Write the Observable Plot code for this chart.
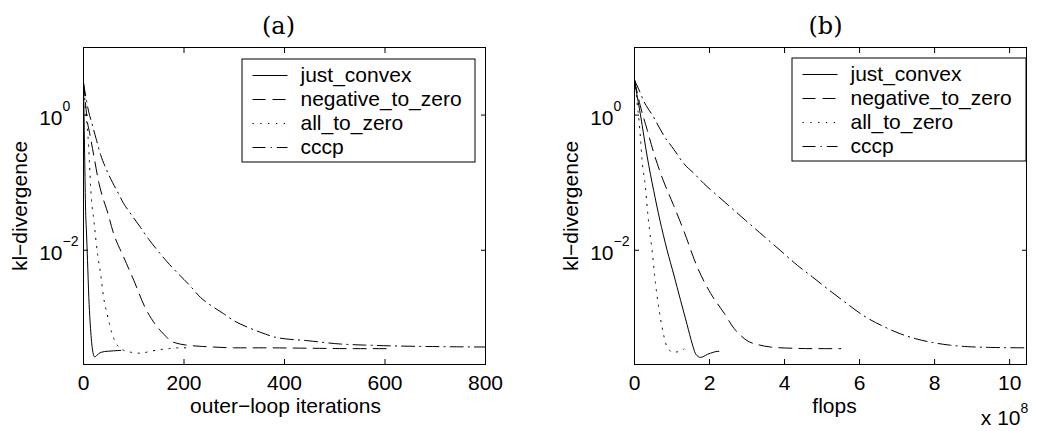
<!DOCTYPE html>
<html><head><meta charset="utf-8">
<script src="https://cdn.jsdelivr.net/npm/d3@7"></script>
<script src="https://cdn.jsdelivr.net/npm/@observablehq/plot@0.6"></script>
<style>
body{margin:0;background:#fff;}
#wrap{position:relative;width:1037px;height:431px;overflow:hidden;background:#fff;}
.abs{position:absolute;}
</style></head><body>
<div id="wrap">
<div id="pa" class="abs" style="left:0;top:0"></div>
<div id="pb" class="abs" style="left:518px;top:0"></div>
<div id="la" class="abs" style="left:241px;top:58px"></div>
<div id="lb" class="abs" style="left:791px;top:57px"></div>
</div>
<script>
// ---- labels ----
const seriesNames = ["just_convex", "negative_to_zero", "all_to_zero", "cccp"];
const titleA = "(a)";
const titleB = "(b)";
const xLabelA = "outer\u2212loop iterations";
const xLabelB = "flops";
const yLabel = "kl\u2212divergence";
const xTicksA = [0, 200, 400, 600, 800];
const xTicksB = [0, 2, 4, 6, 8, 10];
const yTicks = [1e-2, 1];
const yTickExponents = ["\u22122", "0"];
const xScaleExponent = "8";

// ---- panel (a): outer-loop iterations ----
const itJustConvex = [0, 1, 2, 3, 4, 6, 8, 10.6, 13, 15, 17, 19.5, 22, 25, 30, 36, 47, 60, 74];
const klJustConvexA = [3.0, 1.0, 0.35, 0.12, 0.045, 0.018, 7e-3, 2e-3, 9e-4, 5.5e-4, 3.8e-4, 2.9e-4, 2.65e-4, 2.7e-4, 2.95e-4, 3.1e-4, 3.2e-4, 3.25e-4, 3.3e-4];

const itNegToZero = [0, 3, 7.3, 12, 20.6, 30.5, 40, 45.8, 60, 80, 100, 123, 147, 160, 173, 186, 200, 230, 259, 300, 359, 450, 540, 610];
const klNegToZeroA = [3.0, 1.8, 0.84, 0.55, 0.25, 0.1, 0.055, 0.041, 0.0176, 7.9e-3, 3.6e-3, 1.4e-3, 7.3e-4, 5.7e-4, 4.6e-4, 4.2e-4, 4.0e-4, 3.8e-4, 3.7e-4, 3.6e-4, 3.6e-4, 3.55e-4, 3.5e-4, 3.5e-4];

const itAllToZero = [0, 2, 4, 8.6, 10.6, 12.6, 14, 17, 19, 22, 27, 34, 40, 47, 57, 64, 70, 80, 94, 113, 130, 147, 170, 186, 206];
const klAllToZeroA = [3.0, 2.0, 1.2, 0.53, 0.3, 0.15, 0.09, 0.045, 0.035, 0.022, 0.01, 4.5e-3, 2.0e-3, 1.15e-3, 5.8e-4, 4.3e-4, 3.7e-4, 3.3e-4, 3.1e-4, 3.0e-4, 3.15e-4, 3.35e-4, 3.5e-4, 3.6e-4, 3.6e-4];

const itCccp = [0, 5, 10, 17, 25, 34, 45, 58, 70, 80, 88, 100, 113, 130, 147, 166, 186, 210, 233, 255, 279, 300, 326, 355, 385, 445, 511, 560, 611, 710, 800];
const klCccpA = [3.0, 1.8, 1.15, 0.74, 0.45, 0.26, 0.16, 0.1, 0.068, 0.049, 0.04, 0.03, 0.022, 0.0145, 0.01, 6.8e-3, 4.7e-3, 3.1e-3, 2.0e-3, 1.5e-3, 1.15e-3, 9e-4, 7.3e-4, 6.0e-4, 5.1e-4, 4.6e-4, 4.1e-4, 3.95e-4, 3.85e-4, 3.75e-4, 3.7e-4];

// ---- panel (b): flops (x 10^8) ----
const flJustConvex = [0, 0.03, 0.16, 0.34, 0.51, 0.67, 0.87, 1.05, 1.23, 1.4, 1.54, 1.62, 1.67, 1.76, 1.85, 1.95, 2.03, 2.15, 2.25];
const klJustConvexB = [3.3, 2.6, 1.0, 0.24, 0.077, 0.029, 0.01, 4.3e-3, 1.8e-3, 8e-4, 4.1e-4, 3.0e-4, 2.75e-4, 2.6e-4, 2.7e-4, 2.9e-4, 3.0e-4, 3.15e-4, 3.2e-4];

const flNegToZero = [0, 0.15, 0.34, 0.51, 0.76, 1.03, 1.32, 1.67, 2.03, 2.4, 2.66, 2.83, 3.0, 3.3, 3.63, 4.2, 4.8, 5.5];
const klNegToZeroB = [3.3, 1.4, 0.6, 0.28, 0.11, 0.048, 0.019, 5.7e-3, 2.3e-3, 1.15e-3, 6.9e-4, 5.5e-4, 4.6e-4, 4.0e-4, 3.7e-4, 3.55e-4, 3.5e-4, 3.5e-4];

const flAllToZero = [0, 0.03, 0.07, 0.12, 0.16, 0.2, 0.29, 0.34, 0.4, 0.47, 0.56, 0.62, 0.69, 0.76, 0.83, 0.92, 0.98, 1.05, 1.15, 1.25, 1.32];
const klAllToZeroB = [3.3, 2.6, 1.5, 0.84, 0.45, 0.22, 0.087, 0.042, 0.02, 0.01, 3.2e-3, 1.8e-3, 1.0e-3, 6.2e-4, 4.2e-4, 3.4e-4, 3.15e-4, 3.1e-4, 3.15e-4, 3.3e-4, 3.45e-4];

const flCccp = [0, 0.1, 0.25, 0.5, 0.78, 1.05, 1.32, 1.6, 1.85, 2.2, 2.47, 2.92, 3.45, 3.89, 4.34, 4.75, 5.14, 5.5, 6.2, 6.65, 7.09, 7.5, 7.96, 8.4, 8.87, 9.5, 10.45];
const klCccpB = [3.3, 2.5, 1.6, 0.95, 0.5, 0.31, 0.19, 0.135, 0.097, 0.065, 0.048, 0.029, 0.0161, 0.0099, 6.0e-3, 4.0e-3, 2.7e-3, 1.9e-3, 1.0e-3, 7.4e-4, 5.8e-4, 4.9e-4, 4.3e-4, 3.95e-4, 3.75e-4, 3.65e-4, 3.6e-4];

// ---- styling ----
const dashes = {just_convex: null, negative_to_zero: "13,7", all_to_zero: "1.3,6.5", cccp: "13,5,1.3,5"};
const style = {fontFamily: "'Liberation Sans', Arial, Helvetica, sans-serif", fontSize: "21px", color: "black", background: "white", overflow: "visible"};

function rows(xs, ys, name) { return xs.map((x, i) => ({series: name, x, y: ys[i]})); }

const dataA = [
  ...rows(itJustConvex, klJustConvexA, "just_convex"),
  ...rows(itNegToZero, klNegToZeroA, "negative_to_zero"),
  ...rows(itAllToZero, klAllToZeroA, "all_to_zero"),
  ...rows(itCccp, klCccpA, "cccp")
];
const dataB = [
  ...rows(flJustConvex, klJustConvexB, "just_convex"),
  ...rows(flNegToZero, klNegToZeroB, "negative_to_zero"),
  ...rows(flAllToZero, klAllToZeroB, "all_to_zero"),
  ...rows(flCccp, klCccpB, "cccp")
];

function panel({data, width, marginLeft, marginRight, xDomain, xTicks, xLabel, title, xLabelDx, titleDx, extra}) {
  return Plot.plot({
    width, height: 431, marginLeft, marginRight, marginTop: 47, marginBottom: 67,
    x: {domain: xDomain},
    y: {type: "log", domain: [2.04e-4, 10]},
    style,
    marks: [
      ...seriesNames.map(n => Plot.line(data.filter(d => d.series === n), {
        x: "x", y: "y", stroke: "black", strokeWidth: 1, strokeDasharray: dashes[n], curve: "monotone-x", clip: true
      })),
      Plot.frame({stroke: "black", strokeWidth: 1}),
      Plot.axisX(xTicks, {anchor: "bottom", tickSize: -5, tickPadding: 16, tickFormat: d => String(d), label: null}),
      Plot.axisX(xTicks, {anchor: "top", tickSize: -5, tickFormat: () => "", label: null}),
      Plot.axisY(yTicks, {anchor: "left", tickSize: -5, tickFormat: () => "", label: null}),
      Plot.axisY(yTicks, {anchor: "right", tickSize: -5, tickFormat: () => "", label: null}),
      Plot.text(yTicks, {y: d => d, text: () => "10", frameAnchor: "left", textAnchor: "end", lineAnchor: "middle", dx: -21, dy: 3}),
      Plot.text(yTicks, {y: d => d, text: (d, i) => yTickExponents[i], frameAnchor: "left", textAnchor: "start", lineAnchor: "middle", dx: -21, dy: -9, fontSize: 14}),
      Plot.text([xLabel], {text: d => d, frameAnchor: "bottom", textAnchor: "middle", lineAnchor: "middle", dy: 42, dx: xLabelDx}),
      Plot.text([yLabel], {text: d => d, frameAnchor: "left", textAnchor: "middle", lineAnchor: "middle", dx: -63, rotate: -90}),
      Plot.text([title], {text: d => d, frameAnchor: "top", textAnchor: "middle", lineAnchor: "middle", dy: -21, dx: titleDx, fontFamily: "'DejaVu Serif', serif", fontSize: 24}),
      ...(extra || [])
    ]
  });
}

document.getElementById("pa").append(panel({
  data: dataA, width: 518, marginLeft: 83, marginRight: 33, xDomain: [0, 800], xTicks: xTicksA,
  xLabel: xLabelA, title: titleA, xLabelDx: 1, titleDx: -6
}));

document.getElementById("pb").append(panel({
  data: dataB, width: 519, marginLeft: 116, marginRight: 11, xDomain: [0, 10.45], xTicks: xTicksB,
  xLabel: xLabelB, title: titleB, xLabelDx: 4, titleDx: -5,
  extra: [
    Plot.text(["x 10"], {text: d => d, frameAnchor: "bottom-right", textAnchor: "end", lineAnchor: "middle", dx: -6, dy: 54}),
    Plot.text([xScaleExponent], {text: d => d, frameAnchor: "bottom-right", textAnchor: "start", lineAnchor: "middle", dx: -6, dy: 44, fontSize: 14})
  ]
}));

function legend(el, w) {
  const marks = [Plot.frame({stroke: "black", strokeWidth: 1, inset: 0.5})];
  for (const n of seriesNames) {
    marks.push(Plot.link([n], {x1: 11, x2: 46, y1: d => d, y2: d => d, stroke: "black", strokeWidth: 1, strokeDasharray: dashes[n]}));
  }
  marks.push(Plot.text(seriesNames, {x: 59, y: d => d, text: d => d, textAnchor: "start"}));
  el.append(Plot.plot({
    width: w, height: 104, margin: 0,
    x: {domain: [0, w], range: [0, w], axis: null},
    y: {type: "point", domain: seriesNames, range: [16, 90], padding: 0, axis: null},
    style, marks
  }));
}
legend(document.getElementById("la"), 234);
legend(document.getElementById("lb"), 235);
</script>
</body></html>
